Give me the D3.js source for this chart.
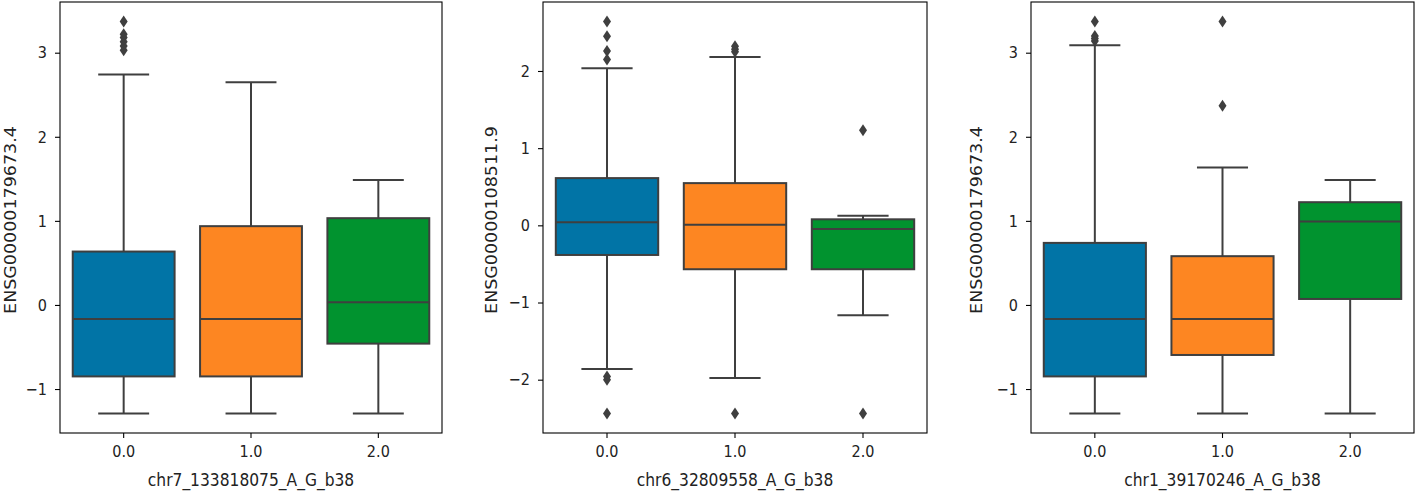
<!DOCTYPE html>
<html>
<head>
<meta charset="utf-8">
<script src="https://cdn.jsdelivr.net/npm/d3@7"></script>
<style>
html,body{margin:0;padding:0;background:#fff;}
svg text{font-family:"DejaVu Sans",sans-serif;fill:#222;}
</style>
</head>
<body>
<svg id="chart" width="1416" height="492"></svg>
<script>
const categories = ["0.0", "1.0", "2.0"];
const colors = ["#0174A6", "#FD8622", "#01932F"];

// [lowWhisker, Q1, median, Q3, highWhisker] per category
const p1Stats = [[-1.29, -0.85, -0.167, 0.635, 2.74], [-1.29, -0.85, -0.167, 0.937, 2.65], [-1.29, -0.46, 0.032, 1.032, 1.485]];
const p1Outliers = [[3.37, 3.22, 3.18, 3.13, 3.08, 3.03], [], []];
const p2Stats = [[-1.86, -0.384, 0.039, 0.612, 2.035], [-1.979, -0.569, 0.008, 0.547, 2.18], [-1.164, -0.569, -0.048, 0.078, 0.125]];
const p2Outliers = [[2.64, 2.45, 2.26, 2.15, -1.96, -2.0, -2.437], [2.32, 2.28, 2.25, -2.437], [1.233, -2.437]];
const p3Stats = [[-1.29, -0.85, -0.167, 0.738, 3.088], [-1.29, -0.595, -0.167, 0.58, 1.636], [-1.29, 0.071, 0.992, 1.222, 1.485]];
const p3Outliers = [[3.37, 3.2, 3.17, 3.14], [3.37, 2.37], []];

const p1Ticks = [-1, 0, 1, 2, 3];
const p2Ticks = [-2, -1, 0, 1, 2];
const p3Ticks = [-1, 0, 1, 2, 3];

const panels = [
  {stats: p1Stats, outliers: p1Outliers, ticks: p1Ticks, xlabel: "chr7_133818075_A_G_b38", ylabel: "ENSG00000179673.4", x0: 60, x1: 442, ylx: 15.5},
  {stats: p2Stats, outliers: p2Outliers, ticks: p2Ticks, xlabel: "chr6_32809558_A_G_b38", ylabel: "ENSG00000108511.9", x0: 543, x1: 927, ylx: 496.5},
  {stats: p3Stats, outliers: p3Outliers, ticks: p3Ticks, xlabel: "chr1_39170246_A_G_b38", ylabel: "ENSG00000179673.4", x0: 1031, x1: 1414, ylx: 981.5}
];

const svg = d3.select("#chart");
const plotTop = 2, plotBottom = 433;
const lineCol = "#3f3f3f";
const sx = 0.886;          // horizontal squash of the original picture
const labelFs = 17.5, tickFs = 16.3;

panels.forEach(p => {
  const all = [];
  p.stats.forEach(s => all.push(s[0], s[4]));
  p.outliers.forEach(o => all.push(...o));
  const mn = d3.min(all), mx = d3.max(all), m = (mx - mn) * 0.05;
  const y = d3.scaleLinear().domain([mn - m, mx + m]).range([plotBottom, plotTop]);
  const x = d3.scaleBand().domain(categories).range([p.x0, p.x1]).padding(0);
  const bw = x.bandwidth() * 0.8;
  const g = svg.append("g");

  categories.forEach((c, i) => {
    const s = p.stats[i];
    const cx = x(c) + x.bandwidth() / 2;
    const gg = g.append("g");
    gg.append("line").attr("x1", cx).attr("x2", cx).attr("y1", y(s[0])).attr("y2", y(s[1]))
      .attr("stroke", lineCol).attr("stroke-width", 2);
    gg.append("line").attr("x1", cx).attr("x2", cx).attr("y1", y(s[3])).attr("y2", y(s[4]))
      .attr("stroke", lineCol).attr("stroke-width", 2);
    [s[0], s[4]].forEach(v => {
      gg.append("line").attr("x1", cx - bw / 4).attr("x2", cx + bw / 4).attr("y1", y(v)).attr("y2", y(v))
        .attr("stroke", lineCol).attr("stroke-width", 2);
    });
    gg.append("rect").attr("x", cx - bw / 2).attr("width", bw)
      .attr("y", y(s[3])).attr("height", y(s[1]) - y(s[3]))
      .attr("fill", colors[i]).attr("stroke", lineCol).attr("stroke-width", 2);
    gg.append("line").attr("x1", cx - bw / 2).attr("x2", cx + bw / 2).attr("y1", y(s[2])).attr("y2", y(s[2]))
      .attr("stroke", lineCol).attr("stroke-width", 2);
    p.outliers[i].forEach(v => {
      const yy = y(v);
      gg.append("path").attr("d", `M${cx},${yy - 6}L${cx + 4},${yy}L${cx},${yy + 6}L${cx - 4},${yy}Z`)
        .attr("fill", lineCol);
    });
  });

  const yAxis = d3.axisLeft(y).tickValues(p.ticks).tickSize(5).tickPadding(8)
    .tickFormat(d => d < 0 ? "\u2212" + Math.abs(d) : String(d));
  const ya = svg.append("g").attr("transform", `translate(${p.x0},0)`).call(yAxis);
  const xAxis = d3.axisBottom(x).tickSize(5).tickPadding(7);
  const xa = svg.append("g").attr("transform", `translate(0,${plotBottom})`).call(xAxis);
  [ya, xa].forEach(a => {
    a.select(".domain").remove();
    a.selectAll(".tick line").attr("stroke", "#000").attr("stroke-width", 1.1);
    a.selectAll(".tick text").attr("font-size", tickFs).attr("font-family", "DejaVu Sans").attr("fill", "#222")
      .attr("transform", `scale(${sx},1)`);
  });
  ya.selectAll(".tick text").attr("x", -13 / sx);
  svg.append("rect").attr("x", p.x0).attr("y", plotTop).attr("width", p.x1 - p.x0).attr("height", plotBottom - plotTop)
    .attr("fill", "none").attr("stroke", "#000").attr("stroke-width", 1.1);

  svg.append("text").attr("transform", `translate(${(p.x0 + p.x1) / 2},486) scale(${sx},1)`)
    .attr("text-anchor", "middle").attr("font-size", labelFs).text(p.xlabel);
  svg.append("text").attr("transform", `translate(${p.ylx},220) scale(${sx},1) rotate(-90)`)
    .attr("text-anchor", "middle").attr("font-size", labelFs).text(p.ylabel);
});
</script>
</body>
</html>
